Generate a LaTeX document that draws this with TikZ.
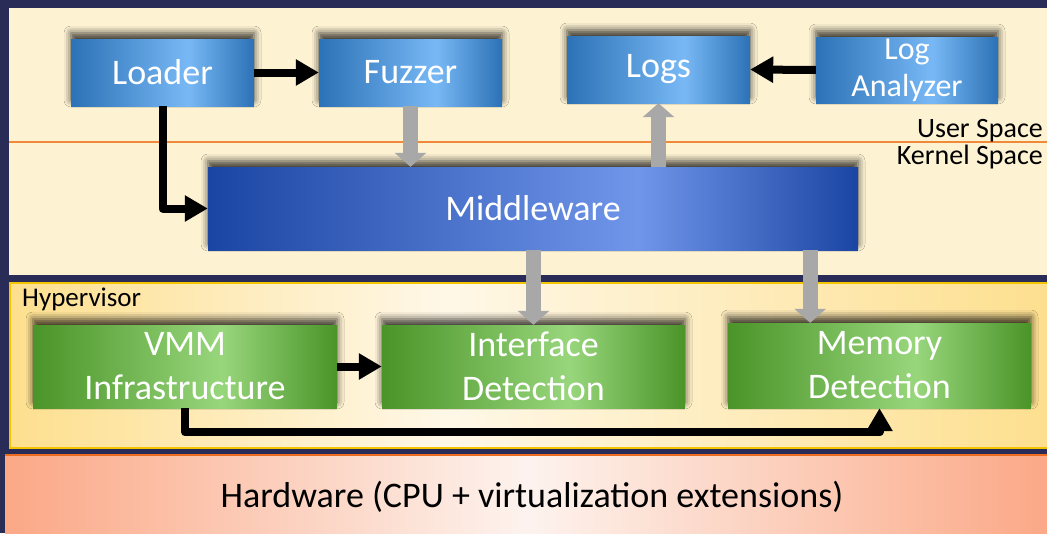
\documentclass[tikz,border=0pt]{standalone}
\usepackage{fontspec}
\setmainfont{Carlito}
\usetikzlibrary{arrows.meta,shadows.blur}

\definecolor{frameC}{HTML}{282C56}
\definecolor{userC}{HTML}{FDF2D2}
\definecolor{splitC}{HTML}{F08A3A}
\definecolor{hypEdge}{HTML}{FDDF8E}
\definecolor{hypMid}{HTML}{FFF8E8}
\definecolor{hypLine}{HTML}{F5C400}
\definecolor{hwEdge}{HTML}{FBA886}
\definecolor{hwMid}{HTML}{FDF3EE}
\definecolor{hwLine}{HTML}{EE6B22}
\definecolor{bDark}{HTML}{2C72B6}
\definecolor{bLight}{HTML}{78B8F5}
\definecolor{mDark}{HTML}{1B45A3}
\definecolor{mLight}{HTML}{7096EA}
\definecolor{gDark}{HTML}{4A9428}
\definecolor{gLight}{HTML}{98D67C}
\definecolor{pipeC}{HTML}{A8A8A8}

% horizontal fills: the inner 25bp..75bp span the shaded path
\pgfdeclarehorizontalshading{blueshade}{100bp}{color(0bp)=(bDark); color(25bp)=(bDark); color(57bp)=(bLight); color(75bp)=(bDark); color(100bp)=(bDark)}
\pgfdeclarehorizontalshading{mwshade}{100bp}{color(0bp)=(mDark); color(25bp)=(mDark); color(58bp)=(mLight); color(75bp)=(mDark); color(100bp)=(mDark)}
\pgfdeclarehorizontalshading{greenshade}{100bp}{color(0bp)=(gDark); color(25bp)=(gDark); color(56bp)=(gLight); color(75bp)=(gDark); color(100bp)=(gDark)}
\pgfdeclarehorizontalshading{hypshade}{100bp}{color(0bp)=(hypEdge); color(25bp)=(hypEdge); color(46bp)=(hypMid); color(75bp)=(hypEdge); color(100bp)=(hypEdge)}
\pgfdeclarehorizontalshading{hwshade}{100bp}{color(0bp)=(hwEdge); color(25bp)=(hwEdge); color(50bp)=(hwMid); color(75bp)=(hwEdge); color(100bp)=(hwEdge)}

\begin{document}
\begin{tikzpicture}[x=1pt,y=-1pt,
  blk/.style={shade, text=white, font=\fontsize{36}{44}\selectfont, align=center, inner sep=0pt,
    blur shadow={shadow xshift=0pt, shadow yshift=6pt, shadow blur radius=7pt, shadow opacity=75}},
  bluebox/.style={blk, shading=blueshade, minimum width=183pt, minimum height=67pt},
  greenbox/.style={blk, shading=greenshade, minimum width=303pt, minimum height=83pt},
  flow/.style={draw=black, line width=8pt, line join=round, -{Triangle[width=25pt,length=23pt]}},
  pipe/.style={draw=pipeC, line width=15pt, -{Triangle[width=31pt,length=14pt]}},
  label/.style={text=black, inner sep=0pt}]

\useasboundingbox (0,0) rectangle (1047,533);

% backdrop and layers
\fill[frameC] (0,0) rectangle (1047,533);
\fill[userC] (9,8) rectangle (1050,275);
\draw[splitC, line width=1.6pt] (9,142) -- (1050,142);
\shadedraw[shading=hypshade, draw=hypLine, line width=2pt] (10,283) rectangle (1052,448);
\shade[shading=hwshade] (5,455) rectangle (1050,536);
\draw[hwLine, line width=2.5pt] (5,455) -- (1050,455);

% layer captions
\node[label, anchor=base east, font=\fontsize{28}{30}\selectfont] (us) at (1043,137) {User Space};
\node[label, anchor=base east, font=\fontsize{28}{30}\selectfont] (ks) at (1043,164.5) {Kernel Space};
\node[label, anchor=base west, font=\fontsize{27}{30}\selectfont] (hyp) at (22,306) {Hypervisor};
\node[label, anchor=base, font=\fontsize{36}{40}\selectfont] (hw) at (532,507) {Hardware (CPU + virtualization extensions)};

% user space components
\node[bluebox] (loader) at (162.5,72.5) {Loader};
\node[bluebox] (fuzzer) at (410.5,72.5) {Fuzzer};
\node[bluebox] (logs) at (658.5,69.5) {Logs};
\node[bluebox, minimum width=182pt, minimum height=66pt, font=\fontsize{32}{37}\selectfont] (analyzer) at (907,70) {Log\\Analyzer};

% kernel middleware
\node[blk, shading=mwshade, minimum width=650pt, minimum height=83pt] (mw) at (533,208.5) {Middleware};

% hypervisor components
\node[greenbox, minimum width=304pt] (vmm) at (185,366.5) {VMM\\Infrastructure};
\node[greenbox] (iface) at (533.5,366.5) {Interface\\Detection};
\node[greenbox, minimum height=85pt] (mem) at (879.5,365.5) {Memory\\Detection};

% data paths
\draw[pipe] (fuzzer.south) -- (fuzzer.south |- mw.north);
\draw[pipe] (logs.south |- mw.north) -- (logs.south);
\draw[pipe] (iface.north |- mw.south) -- (iface.north);
\draw[pipe] ([xshift=-48pt]mw.south east) -- ([xshift=-48pt]mw.south east |- mem.north);

% control flow
\draw[flow] (loader.east) -- (fuzzer.west);
\draw[flow] (loader.south) |- (mw.west);
\draw[flow] (analyzer.west) -- (logs.east);
\draw[flow] (vmm.east) -- (iface.west);
\draw[flow] (vmm.south) -- ++(0,24) -| (mem.south);
\end{tikzpicture}
\end{document}
